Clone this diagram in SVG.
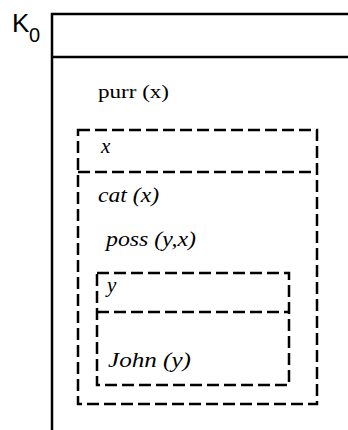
<svg xmlns="http://www.w3.org/2000/svg" width="348" height="430" viewBox="0 0 348 430">
<style>
.solid{fill:none;stroke:#000;stroke-width:2.5}
.dash{fill:none;stroke:#000;stroke-width:2.5;stroke-dasharray:12 5}
.t{font-family:"Liberation Serif","Times New Roman",serif;fill:#000}
.i{font-family:"Liberation Serif","Times New Roman",serif;font-style:italic;fill:#000}
.k{font-family:"Liberation Sans",Arial,sans-serif;fill:#000}
</style>
<rect width="348" height="430" fill="#fff"/>
<g id="K0">
<text class="k" x="12" y="32" font-size="26">K</text>
<text class="k" x="29" y="42" font-size="20">0</text>
<path class="solid" d="M52,430 V14 H348 M52,57 H348"/>
<text class="t" x="98" y="98" font-size="19" textLength="71" lengthAdjust="spacingAndGlyphs">purr (x)</text>
</g>
<g id="box-x">
<rect class="dash" x="78" y="130" width="239" height="274"/>
<line class="dash" x1="78" y1="172" x2="317" y2="172"/>
<text class="i" x="101" y="153" font-size="21">x</text>
<text class="i" x="98" y="202" font-size="21" textLength="61" lengthAdjust="spacingAndGlyphs">cat (x)</text>
<text class="i" x="106" y="246" font-size="21" textLength="90" lengthAdjust="spacingAndGlyphs">poss (y,x)</text>
</g>
<g id="box-y">
<rect class="dash" x="97" y="273" width="192" height="112"/>
<line class="dash" x1="97" y1="312" x2="289" y2="312"/>
<text class="i" x="107" y="292" font-size="21">y</text>
<text class="i" x="108" y="367" font-size="21" textLength="83" lengthAdjust="spacingAndGlyphs">John (y)</text>
</g>
<g id="connectors"/>
</svg>
